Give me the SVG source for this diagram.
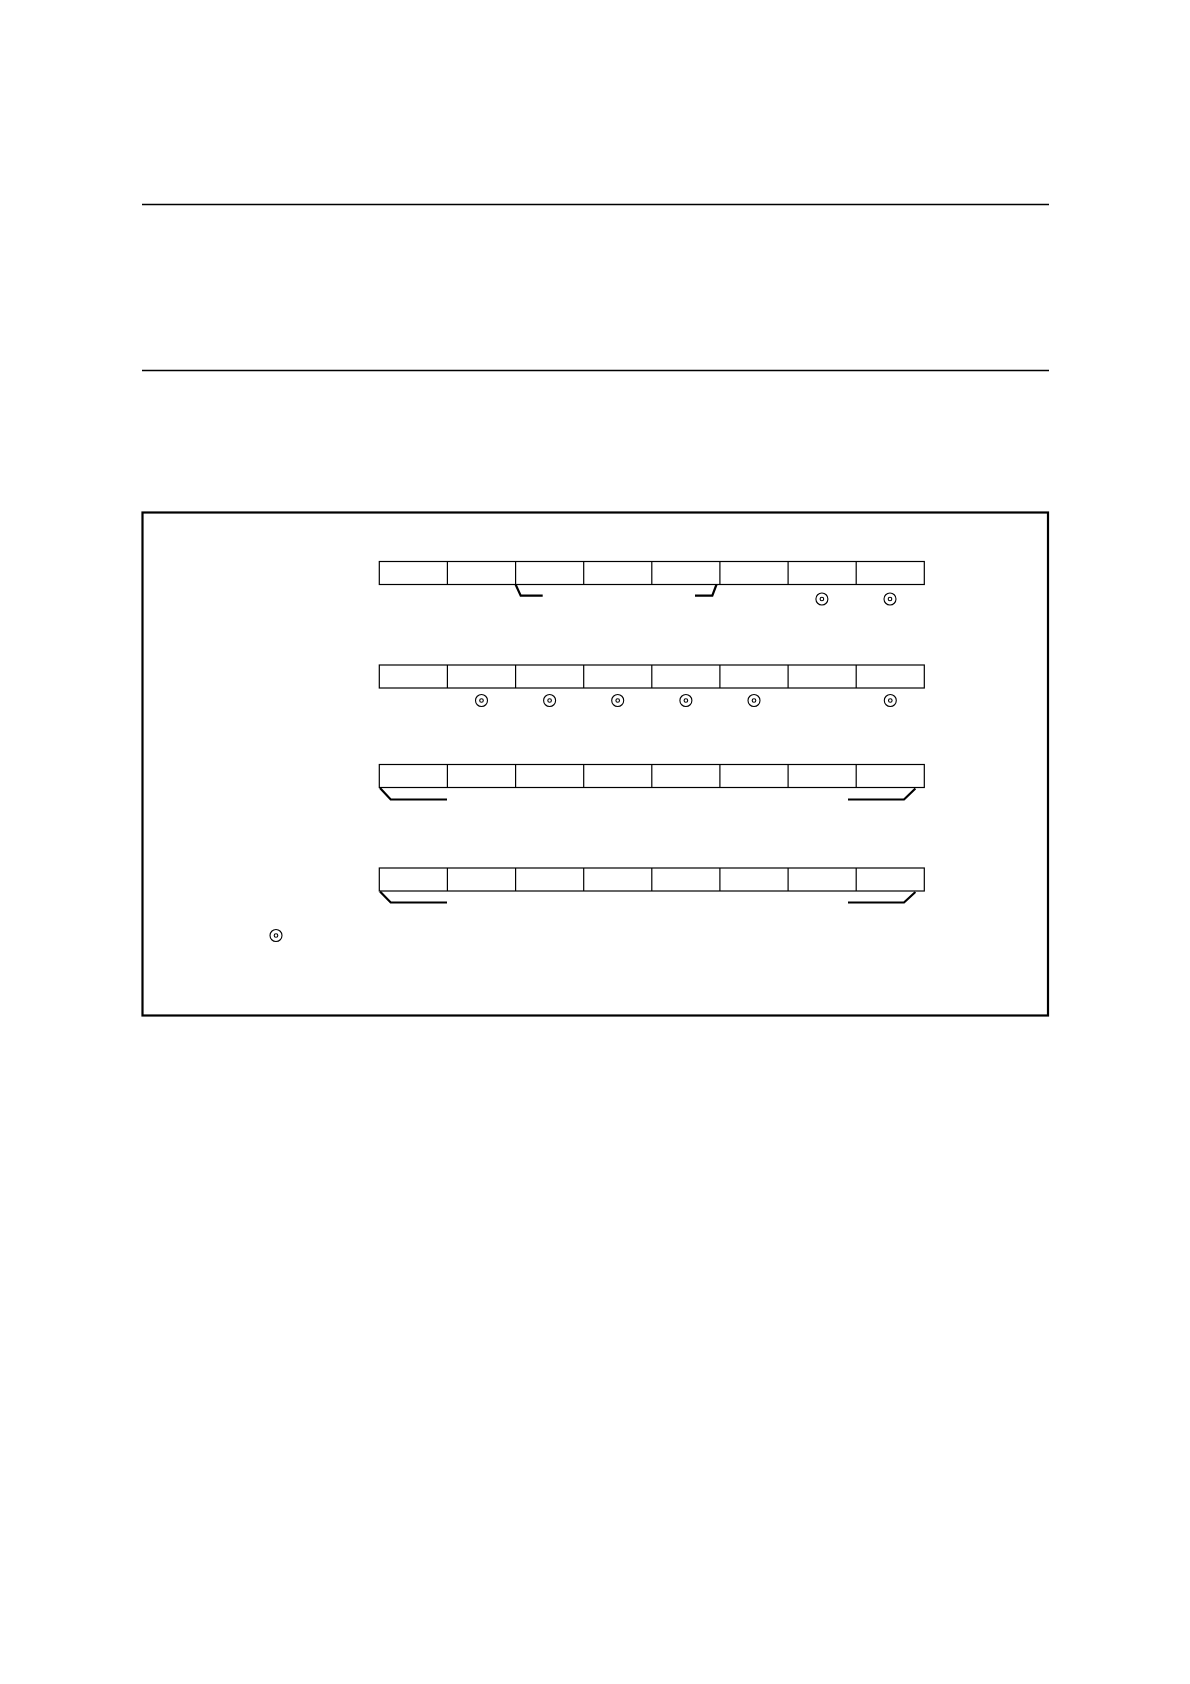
<svg xmlns="http://www.w3.org/2000/svg" width="1190" height="1684" viewBox="0 0 1190 1684">
<defs>
<style>
.rule{stroke:#000;stroke-width:1.6;fill:none}
.frame{stroke:#000;stroke-width:2.2;fill:none}
.reg{stroke:#000;stroke-width:1.2;fill:#fff}
.div{stroke:#000;stroke-width:1.2}
.br{stroke:#000;stroke-width:2.2;fill:none;stroke-linejoin:miter}
.dot{stroke:#000;stroke-width:1.1;fill:none}
</style>
<g id="reg8">
<rect class="reg" x="0" y="0" width="545" height="23"/>
<line class="div" x1="68.1" y1="0" x2="68.1" y2="23"/>
<line class="div" x1="136.3" y1="0" x2="136.3" y2="23"/>
<line class="div" x1="204.4" y1="0" x2="204.4" y2="23"/>
<line class="div" x1="272.5" y1="0" x2="272.5" y2="23"/>
<line class="div" x1="340.6" y1="0" x2="340.6" y2="23"/>
<line class="div" x1="408.8" y1="0" x2="408.8" y2="23"/>
<line class="div" x1="476.9" y1="0" x2="476.9" y2="23"/>
</g>
<g id="mark">
<circle class="dot" cx="0" cy="0" r="6"/>
<circle class="dot" cx="0" cy="0" r="1.8"/>
</g>
</defs>
<rect x="0" y="0" width="1190" height="1684" fill="#fff"/>
<g id="rules">
<line class="rule" x1="142" y1="204.5" x2="1049" y2="204.5"/>
<line class="rule" x1="142" y1="370.5" x2="1049" y2="370.5"/>
</g>
<g id="frame">
<rect class="frame" x="142.5" y="512.5" width="905.5" height="503"/>
</g>
<g id="register1"><use href="#reg8" x="379.3" y="561.5"/></g>
<g id="register2"><use href="#reg8" x="379.3" y="665"/></g>
<g id="register3"><use href="#reg8" x="379.3" y="764.5"/></g>
<g id="register4"><use href="#reg8" x="379.3" y="868"/></g>
<g id="marks">
<use href="#mark" x="821.9" y="599"/>
<use href="#mark" x="890" y="599"/>
<use href="#mark" x="481.5" y="700.5"/>
<use href="#mark" x="549.6" y="700.5"/>
<use href="#mark" x="617.7" y="700.5"/>
<use href="#mark" x="685.9" y="700.5"/>
<use href="#mark" x="754" y="700.5"/>
<use href="#mark" x="890.3" y="700.5"/>
<use href="#mark" x="276" y="935.5"/>
</g>
<g id="connectors">
<polyline class="br" points="515.6,584.5 520.7,595.7 542.7,595.7"/>
<polyline class="br" points="695,595.7 712.3,595.7 716.5,584.5"/>
<polyline class="br" points="380,788 390.7,799.5 447,799.5"/>
<polyline class="br" points="848,799.5 904,799.5 915.4,788.5"/>
<polyline class="br" points="380,891.5 390.7,902.5 447,902.5"/>
<polyline class="br" points="848,902.5 904,902.5 915.4,892"/>
</g>
</svg>
